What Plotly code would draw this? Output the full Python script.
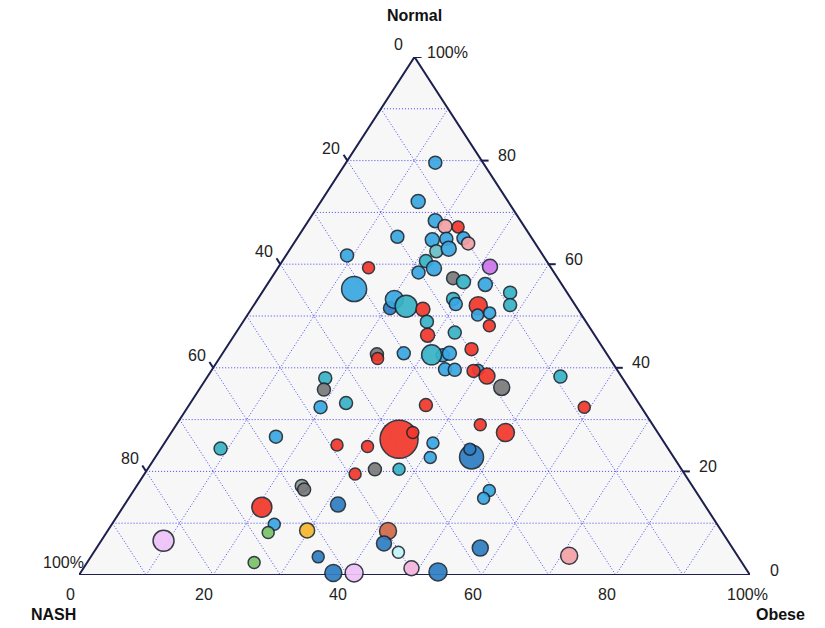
import math
import plotly.graph_objects as go

# ---------------- data (percent shares per sample) ----------------
normal = [79.6, 72.1, 68.4, 67.3, 67.2, 65.3, 64.7, 64.9, 65.0, 64.0,
          62.5, 63.0, 59.5, 60.6, 59.2, 58.4, 59.3, 61.7, 57.3, 56.6,
          56.1, 54.5, 52.1, 53.3, 52.3, 52.0, 50.2, 50.6, 48.1, 46.8,
          43.6, 42.4, 42.8, 39.7, 39.6, 39.6, 39.4, 38.4, 36.2, 38.3,
          32.4, 55.2, 51.5, 53.2, 51.9, 51.3, 48.9, 46.3, 42.6, 41.8,
          42.8, 42.5, 38.0, 35.8, 33.2, 32.4, 32.8, 26.7, 24.4, 25.1,
          26.2, 27.5, 24.8, 25.5, 22.7, 20.4, 20.4, 19.5, 17.2, 16.5,
          13.6, 8.6, 8.5, 6.1, 4.4, 3.5, 0.4, 0.4, 1.3, 0.6,
          29.0, 27.5, 22.8, 24.3, 16.3, 14.8, 5.2, 3.7, 13.1, 9.8,
          8.2, 6.6, 2.4]
nash = [7.1, 13.4, 12.7, 11.8, 9.9, 19.9, 15.0, 12.8, 10.2, 10.0,
        15.5, 13.4, 9.0, 18.0, 17.5, 20.2, 27.2, 29.2, 15.6, 14.4,
        11.4, 8.5, 9.7, 17.6, 17.7, 14.5, 15.5, 13.5, 14.8, 20.6,
        19.7, 24.6, 23.4, 25.6, 24.2, 20.7, 21.5, 20.0, 18.9, 9.1,
        8.5, 31.4, 27.9, 26.4, 25.3, 23.1, 23.7, 24.9, 34.3, 34.6,
        30.2, 26.2, 44.3, 45.6, 43.6, 47.8, 31.9, 57.3, 66.7, 49.0,
        39.2, 36.5, 44.6, 34.5, 36.3, 45.7, 42.1, 49.1, 58.2, 58.2,
        54.6, 61.7, 49.7, 51.5, 50.2, 62.6, 61.9, 58.8, 49.8, 46.2,
        25.7, 22.7, 30.1, 29.6, 30.7, 32.3, 37.6, 25.1, 66.2, 66.0,
        67.7, 84.1, 72.7]
obese = [13.3, 14.5, 18.9, 20.9, 22.9, 14.8, 20.3, 22.3, 24.8, 26.0,
         22.0, 23.6, 31.5, 21.4, 23.3, 21.4, 13.5, 9.1, 27.1, 29.0,
         32.5, 37.0, 38.2, 29.1, 30.0, 33.5, 34.3, 35.9, 37.1, 32.6,
         36.7, 33.0, 33.8, 34.7, 36.2, 39.7, 39.1, 41.6, 44.9, 52.6,
         59.1, 13.4, 20.6, 20.4, 22.8, 25.6, 27.4, 28.8, 23.1, 23.6,
         27.0, 31.3, 17.7, 18.6, 23.2, 19.8, 35.3, 16.0, 8.9, 25.9,
         34.6, 36.0, 30.6, 40.0, 41.0, 33.9, 37.5, 31.4, 24.6, 25.3,
         31.8, 29.7, 41.8, 42.4, 45.4, 33.9, 37.7, 40.8, 48.9, 53.2,
         45.3, 49.8, 47.1, 46.1, 53.0, 52.9, 57.2, 71.2, 20.7, 24.2,
         24.1, 9.3, 24.9]
bubble_size = [13, 14, 14, 14, 12, 13, 14, 13, 13, 13,
               13, 15, 15, 13, 15, 13, 12, 13, 13, 14,
               14, 13, 13, 13, 13, 18, 12, 12, 12, 13,
               13, 13, 14, 13, 13, 11, 13, 16, 16, 13,
               12, 25, 13, 18, 22, 14, 13, 14, 13, 12,
               13, 20, 13, 13, 13, 13, 13, 13, 13, 12,
               38, 12, 12, 12, 12, 13, 12, 12, 13, 13,
               15, 15, 17, 15, 12, 12, 17, 18, 15, 18,
               12, 18, 24, 12, 12, 12, 16, 17, 20, 12,
               12, 21, 12]
group = ["sky", "sky", "sky", "pink", "red", "sky", "sky", "sky", "sky", "pink",
         "tealgray", "sky", "violet", "teal", "sky", "sky", "red", "sky", "gray", "teal",
         "sky", "teal", "teal", "teal", "sky", "red", "sky", "sky", "red", "teal",
         "red", "sky", "sky", "sky", "sky", "sky", "red", "red", "gray", "teal",
         "red", "sky", "darkblue", "sky", "teal", "red", "teal", "red", "gray", "red",
         "sky", "teal", "teal", "gray", "teal", "sky", "red", "sky", "teal", "red",
         "red", "red", "red", "sky", "sky", "gray", "teal", "red", "graylight", "gray",
         "darkblue", "orange", "brown", "darkblue", "lightcyan", "darkblue", "darkblue", "lavender", "pinklav", "darkblue",
         "red", "red", "darkblue", "darkblue", "sky", "sky", "darkblue", "pink", "red", "sky",
         "green", "lavender", "green"]

tick_values = [0, 20, 40, 60, 80, 100]
tick_labels = ["0", "20", "40", "60", "80", "100%"]
grid_values = [10, 20, 30, 40, 50, 60, 70, 80, 90]
axis_titles = {"a": "Normal", "b": "NASH", "c": "Obese"}

color_map = {
    "red": "#f3382c", "sky": "#3aa7e2", "teal": "#38b3c6", "tealgray": "#69bfc8",
    "darkblue": "#2e7ec4", "gray": "#7b7b7b", "graylight": "#8f9b9a",
    "pink": "#f4a2a6", "violet": "#cc76ea", "lavender": "#efc2f7",
    "pinklav": "#f4b4dc", "orange": "#f5b82e", "brown": "#d2694a",
    "green": "#7cc26b", "lightcyan": "#c2f4f7",
}

# ---------------- layout geometry ----------------
W, H = 825, 628
ML, MR, MT, MB = 79, 75, 57, 53
ux = (W - ML - MR) / 100.0   # px per unit in x
uy = (H - MT - MB) / 100.0   # px per unit in y

EDGE = "#1d1f4d"
GRID = "#4646ee"
TXT = "#222222"
FONT = "Liberation Sans, Arial, sans-serif"

# ternary -> plane (x = obese + normal/2, y = normal)
xs = [o + n / 2.0 for n, o in zip(normal, obese)]
ys = list(normal)

fig = go.Figure()
fig.add_trace(go.Scatter(
    x=xs, y=ys, mode="markers", cliponaxis=False,
    customdata=list(zip(normal, nash, obese)),
    hovertemplate="Normal %{customdata[0]}%<br>NASH %{customdata[1]}%<br>Obese %{customdata[2]}%<extra></extra>",
    marker=dict(size=bubble_size, color=[color_map[g] for g in group],
                opacity=0.92, line=dict(color="rgba(25,35,45,0.95)", width=1.5)),
    showlegend=False,
))

shapes = []
tri = "M 0,0 L 50,100 L 100,0 Z"
shapes.append(dict(type="path", path=tri, xref="x", yref="y", fillcolor="#f7f7f7",
                   line=dict(width=0), layer="below"))
gl = dict(color=GRID, width=1, dash="1px,2px")
for k in grid_values:
    # Normal = k (horizontal)
    shapes.append(dict(type="line", xref="x", yref="y", x0=k / 2, y0=k, x1=100 - k / 2, y1=k, line=gl, layer="below"))
    # Obese = k
    shapes.append(dict(type="line", xref="x", yref="y", x0=k, y0=0, x1=k + (100 - k) / 2, y1=100 - k, line=gl, layer="below"))
    # NASH = k
    shapes.append(dict(type="line", xref="x", yref="y", x0=(100 - k) / 2, y0=100 - k, x1=100 - k, y1=0, line=gl, layer="below"))
shapes.append(dict(type="path", path=tri, xref="x", yref="y", fillcolor="rgba(0,0,0,0)",
                   line=dict(color=EDGE, width=2), layer="below"))

# tick direction along side edges (px)
ex, ey = 50 * ux, 100 * uy
L = math.hypot(ex, ey)
tl = 7.0
dxp, dyp = tl * ex / L, tl * ey / L
annotations = []
lfont = dict(size=16, color=TXT, family=FONT)
for v, lab in zip(tick_values, tick_labels):
    # right edge: Normal ticks
    bx, by = 100 - v / 2, v
    shapes.append(dict(type="line", xref="x", yref="y", x0=bx, y0=by, x1=bx + tl / ux, y1=by,
                       line=dict(color=EDGE, width=2)))
    annotations.append(dict(x=bx, y=by, xref="x", yref="y", text=lab, showarrow=False,
                            xanchor="left", yanchor="middle", xshift=10 if v == 100 else (18 if v == 0 else 14),
                            yshift=5, font=lfont))
    # left edge: NASH ticks
    bx, by = (100 - v) / 2, 100 - v
    shapes.append(dict(type="line", xref="x", yref="y", x0=bx, y0=by, x1=bx - dxp / ux, y1=by + dyp / uy,
                       line=dict(color=EDGE, width=2)))
    annotations.append(dict(x=bx, y=by, xref="x", yref="y", text=lab, showarrow=False,
                            xanchor="center", yanchor="middle", xshift=-16, yshift=12.5, font=lfont))
    # bottom edge: Obese ticks
    bx, by = v, 0
    shapes.append(dict(type="line", xref="x", yref="y", x0=bx, y0=by, x1=bx - dxp / ux, y1=by - dyp / uy,
                       line=dict(color=EDGE, width=2)))
    annotations.append(dict(x=bx, y=by, xref="x", yref="y", text=lab, showarrow=False,
                            xanchor="center", yanchor="middle", xshift=-3 if v == 100 else -9, yshift=-19,
                            font=lfont))

tfont = dict(size=16, color="#111111", family=FONT)
annotations.append(dict(x=50, y=100, xref="x", yref="y", text="<b>%s</b>" % axis_titles["a"], showarrow=False,
                        xanchor="center", yanchor="middle", yshift=42, font=tfont))
annotations.append(dict(x=0, y=0, xref="x", yref="y", text="<b>%s</b>" % axis_titles["b"], showarrow=False,
                        xanchor="center", yanchor="middle", xshift=-26, yshift=-39, font=tfont))
annotations.append(dict(x=100, y=0, xref="x", yref="y", text="<b>%s</b>" % axis_titles["c"], showarrow=False,
                        xanchor="center", yanchor="middle", xshift=30, yshift=-39, font=tfont))

fig.update_layout(
    width=W, height=H,
    margin=dict(l=ML, r=MR, t=MT, b=MB, pad=0),
    paper_bgcolor="white", plot_bgcolor="white",
    xaxis=dict(range=[0, 100], visible=False, fixedrange=True),
    yaxis=dict(range=[0, 100], visible=False, fixedrange=True),
    shapes=shapes, annotations=annotations,
    font=dict(family=FONT),
    showlegend=False,
)

fig.write_html("out.html", config={"displayModeBar": False},
               post_script="document.body.style.margin='0';document.body.style.overflow='hidden';")
